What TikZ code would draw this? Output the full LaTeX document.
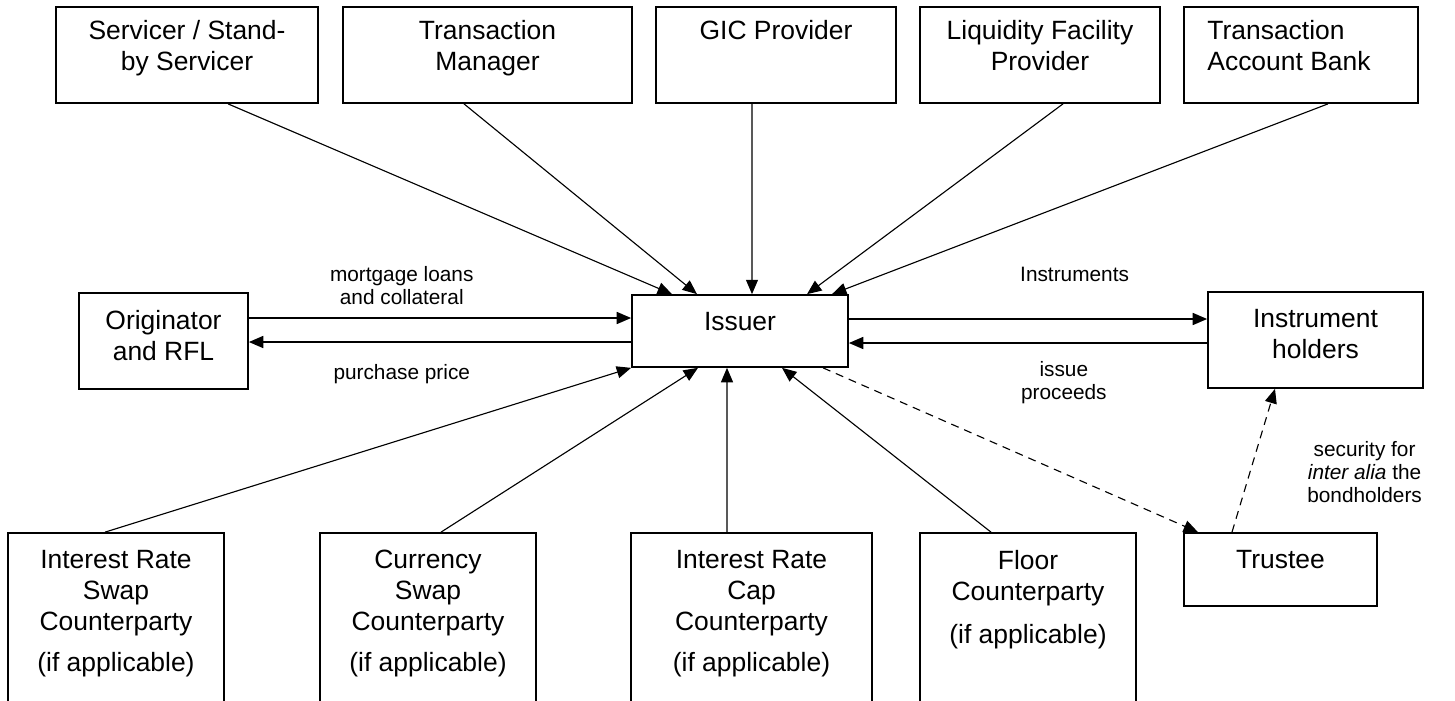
\documentclass[tikz,border=0pt]{standalone}
\usepackage{fontspec}
\setmainfont{Liberation Sans}
\usetikzlibrary{arrows.meta}

\begin{document}
\begin{tikzpicture}[x=0.025cm, y=-0.025cm,
    >={Triangle[length=0.36cm, width=0.3cm]},
    box/.style={draw, line width=1.2pt, inner sep=0pt},
    boxtext/.style={anchor=north, align=center, inner sep=0.3cm, yshift=-0.15cm, font=\fontsize{18.8}{22}\selectfont},
    flow/.style={->, line width=1.1pt},
    link/.style={->, line width=0.8pt},
    dashlink/.style={->, line width=0.8pt, dash pattern=on 0.2cm off 0.15cm},
    note/.style={align=center, font=\fontsize{14.8}{16.4}\selectfont}]
  \useasboundingbox (0,0) rectangle (1455,700);
  \clip (0,0) rectangle (1455,700);

  % top row
  \node[box, minimum width=6.55cm, minimum height=2.4cm, label={[boxtext, yshift=0.1cm]north:{Servicer / Stand-\\by Servicer}}] (serv) at (187,55) {};
  \node[box, minimum width=7.225cm, minimum height=2.4cm, label={[boxtext, yshift=0.1cm]north:{Transaction\\Manager}}] (tm) at (487.5,55) {};
  \node[box, minimum width=6cm, minimum height=2.4cm, label={[boxtext, yshift=0.1cm]north:{GIC Provider}}] (gic) at (776,55) {};
  \node[box, minimum width=6cm, minimum height=2.4cm, label={[boxtext, yshift=0.1cm]north:{Liquidity Facility\\Provider}}] (lfp) at (1040,55) {};
  \node[box, minimum width=5.85cm, minimum height=2.4cm, label={[boxtext, yshift=0.1cm, anchor=north west, align=left, xshift=0.3cm]north west:{Transaction\\Account Bank}}] (tab) at (1301,55) {};

  % middle row
  \node[box, minimum width=4.225cm, minimum height=2.4cm, label={[boxtext]north:{Originator\\and RFL}}] (orig) at (163.5,341) {};
  \node[box, minimum width=5.4cm, minimum height=1.8cm, label={[boxtext]north:{Issuer}}] (issuer) at (740,331) {};
  \node[box, minimum width=5.375cm, minimum height=2.4cm, label={[boxtext]north:{Instrument\\holders}}] (ih) at (1315.5,340) {};

  % bottom row
  \node[box, minimum width=5.4cm, minimum height=4.675cm, label={[boxtext]north:{Interest Rate\\Swap\\Counterparty\\[0.25cm](if applicable)}}] (irs) at (116,626.5) {};
  \node[box, minimum width=5.4cm, minimum height=4.675cm, label={[boxtext]north:{Currency\\Swap\\Counterparty\\[0.25cm](if applicable)}}] (csc) at (428,626.5) {};
  \node[box, minimum width=6.025cm, minimum height=4.675cm, label={[boxtext]north:{Interest Rate\\Cap\\Counterparty\\[0.25cm](if applicable)}}] (cap) at (751.5,626.5) {};
  \node[box, minimum width=5.4cm, minimum height=4.675cm, label={[boxtext]north:{Floor\\Counterparty\\[0.3cm](if applicable)}}] (floor) at (1028,626.5) {};
  \node[box, minimum width=4.825cm, minimum height=1.825cm, label={[boxtext]north:{Trustee}}] (trustee) at (1280.5,569.5) {};

  \draw[link] ([xshift=1.025cm]serv.south) -- ([xshift=-1.7cm]issuer.north);
  \draw[link] ([xshift=-0.5875cm]tm.south) -- ([xshift=-1.075cm]issuer.north);
  \draw[link] ([xshift=-0.6cm]gic.south) -- ([xshift=0.3cm]issuer.north);
  \draw[link] ([xshift=0.575cm]lfp.south) -- ([xshift=1.675cm]issuer.north);
  \draw[link] ([xshift=0.675cm]tab.south) -- ([xshift=2.3cm]issuer.north);

  \draw[link] ([xshift=-0.275cm]irs.north) -- (issuer.south west);
  \draw[link] ([xshift=0.325cm]csc.north) -- ([xshift=-1.05cm]issuer.south);
  \draw[link] ([xshift=-0.6125cm]cap.north) -- ([xshift=-0.325cm]issuer.south);
  \draw[link] ([xshift=-0.925cm]floor.north) -- ([xshift=1.05cm]issuer.south);

  \draw[flow] ([yshift=0.575cm]orig.east) -- ([yshift=0.575cm]orig.east -| issuer.west)
    node[note, pos=0.4, yshift=0.8cm] {mortgage loans\\and collateral};
  \draw[flow] ([yshift=-0.275cm]issuer.west) -- ([yshift=-0.275cm]issuer.west -| orig.east)
    node[note, pos=0.6, yshift=-0.8cm] {purchase price};
  \draw[flow] ([yshift=0.3cm]issuer.east) -- ([yshift=0.3cm]issuer.east -| ih.west)
    node[note, pos=0.63, yshift=1.125cm] {Instruments};
  \draw[flow] ([yshift=-0.075cm]ih.west) -- ([yshift=-0.075cm]ih.west -| issuer.east)
    node[note, pos=0.4, yshift=-1cm] {issue\\proceeds};

  \draw[dashlink] ([xshift=2.075cm]issuer.south) -- ([xshift=-2.0625cm]trustee.north);
  \draw[dashlink] ([xshift=-1.2125cm]trustee.north) -- ([xshift=-1.0125cm]ih.south)
    node[note, pos=0.42, anchor=west, xshift=1.3cm] {security for\\\textit{inter alia} the\\bondholders};
\end{tikzpicture}
\end{document}
